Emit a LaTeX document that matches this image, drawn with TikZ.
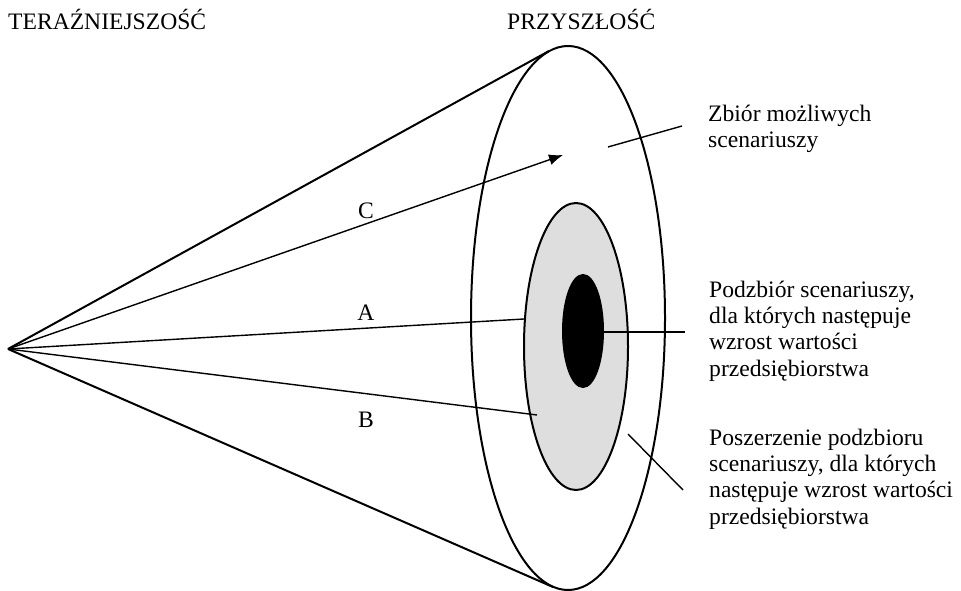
\documentclass[tikz,border=0pt]{standalone}
\usepackage{fontspec}
\setmainfont{Liberation Serif}
\usetikzlibrary{shapes.geometric,arrows.meta}
\tikzset{
  thick line/.style={line width=2pt},
  thin line/.style={line width=1.4pt},
  txt/.style={inner sep=0pt, anchor=base west, align=left, font=\fontsize{23.6}{26.3}\selectfont},
  lbl/.style={inner sep=0pt, anchor=base, font=\fontsize{23.6}{26.3}\selectfont},
  ell/.style={ellipse, draw, line width=2pt, inner sep=0pt}
}
\begin{document}
\begin{tikzpicture}[x=1pt,y=-1pt]
\useasboundingbox (0,0) rectangle (961,591);
% ellipses
\node[ell, fill=white, minimum width=194pt, minimum height=544pt] (big) at (568,318) {};
\node[ell, fill=black!13, minimum width=104pt, minimum height=287pt] (grey) at (576,346.5) {};
\node[ell, fill=black, minimum width=40pt, minimum height=112pt] (core) at (583,331) {};
% points
\coordinate (apex) at (8,349);
\coordinate (tTop) at (549,51);
\coordinate (tBot) at (553,587);
\coordinate (aEnd) at (524,319);
\coordinate (bEnd) at (537,415);
\coordinate (cEnd) at (563,155);
% cone
\draw[thick line] (apex) -- (tTop);
\draw[thick line] (apex) -- (tBot);
% scenario lines
\draw[thin line] (apex) -- (aEnd);
\draw[thin line] (apex) -- (bEnd);
\draw[thin line, -{Latex[length=14pt,width=11pt]}] (apex) -- (cEnd);
% labels on lines
\node[lbl] (C) at (366,218) {C};
\node[lbl] (A) at (366,320) {A};
\node[lbl] (B) at (366,427) {B};
% header texts
\node[txt] (now) at (8,30) {TERAŹNIEJSZOŚĆ};
\node[txt] (future) at (507,30) {PRZYSZŁOŚĆ};
% right texts (base anchor = last line)
\node[txt] (t1) at (708,148) {Zbiór możliwych\\scenariuszy};
\node[txt] (t2) at (709,376) {Podzbiór scenariuszy,\\dla których następuje\\wzrost wartości\\przedsiębiorstwa};
\node[txt] (t3) at (709,524) {Poszerzenie podzbioru\\scenariuszy, dla których\\następuje wzrost wartości\\przedsiębiorstwa};
% pointer lines
\coordinate (p1a) at (608,147);
\coordinate (p1b) at (682,126);
\coordinate (p2a) at (603,332);
\coordinate (p2b) at (685,332);
\coordinate (p3a) at (628,434);
\coordinate (p3b) at (683,490);
\draw[thin line] (p1a) -- (p1b);
\draw[thin line] (p2a) -- (p2b);
\draw[thin line] (p3a) -- (p3b);
\end{tikzpicture}
\end{document}
